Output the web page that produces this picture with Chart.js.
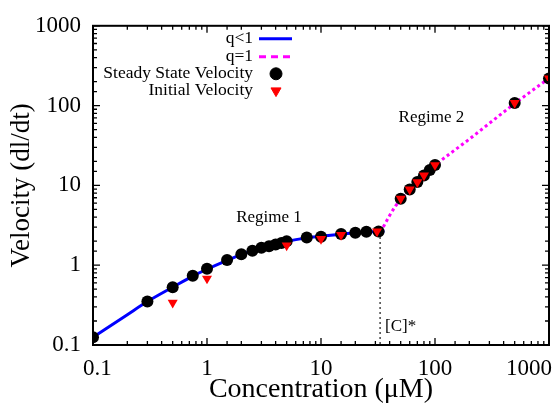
<!DOCTYPE html>
<html lang="en">
<head>
<meta charset="UTF-8">
<title>Velocity vs Concentration</title>
<script src="https://cdn.jsdelivr.net/npm/chart.js"></script>
<style>
  body { margin: 0; background: #fff; }
  .wrap { width: 557px; height: 406px; }
</style>
</head>
<body>
<div class="wrap"><canvas id="velChart" width="557" height="406"></canvas></div>
<script>
const serif = "'Liberation Serif', 'Times New Roman', serif";

// steady state velocity (black dots)
const ssConc = [0.1, 0.3, 0.5, 0.75, 1, 1.5, 2, 2.5, 3, 3.5, 4, 4.5, 5, 7.5, 10, 15, 20, 25, 32, 50, 60, 70, 80, 90, 100, 500, 1000];
const ssVel = [0.125, 0.35, 0.53, 0.74, 0.90, 1.16, 1.37, 1.52, 1.65, 1.73, 1.82, 1.90, 2.0, 2.22, 2.28, 2.46, 2.55, 2.63, 2.65, 6.8, 8.9, 11.0, 13.3, 15.6, 18.0, 108, 219];

// initial velocity (red triangles)
const ivConc = [0.5, 1, 5, 10, 15, 31, 50, 60, 70, 80, 100, 500, 1000];
const ivVel = [0.34, 0.68, 1.77, 2.13, 2.39, 2.65, 6.8, 8.9, 11.0, 13.3, 18.0, 108, 219];

// fitted curve q<1
const lowConc = [0.1, 0.2, 0.3, 0.5, 0.75, 1, 1.5, 2, 3, 5, 7.5, 10, 15, 20, 25, 36];
const lowVel = [0.125, 0.24, 0.35, 0.53, 0.73, 0.89, 1.15, 1.36, 1.64, 1.99, 2.2, 2.3, 2.45, 2.55, 2.6, 2.67];

// fitted curve q=1
const highConc = [33, 36, 40, 45, 50, 60, 70, 80, 90, 100, 200, 500, 1000];
const highVel = [2.6, 3.2, 4.2, 5.5, 6.6, 8.8, 11, 13.2, 15.5, 17.8, 38, 106, 220];

// critical concentration marker
const critConc = [33, 33];
const critVel = [2.6, 0.1];

const axisMin = 0.1, axisMax = 1000;

const pts = (xs, ys) => xs.map((v, i) => ({ x: v, y: ys[i] }));
const isDecade = v => Math.abs(Math.log10(v) - Math.round(Math.log10(v))) < 1e-6;
const fmt = v => v < 1 ? v.toFixed(1) : String(Math.round(v));

const extras = {
  id: 'extras',
  afterDatasetsDraw(chart) {
    const { ctx, chartArea: a, scales: { x, y } } = chart;
    ctx.save();
    ctx.strokeStyle = '#000';
    ctx.lineWidth = 1.3;
    // inward ticks on all four sides
    x.ticks.forEach(t => {
      const px = x.getPixelForValue(t.value);
      const len = isDecade(t.value) ? 7 : 4;
      ctx.beginPath();
      ctx.moveTo(px, a.bottom); ctx.lineTo(px, a.bottom - len);
      ctx.moveTo(px, a.top); ctx.lineTo(px, a.top + len);
      ctx.stroke();
    });
    y.ticks.forEach(t => {
      const py = y.getPixelForValue(t.value);
      const len = isDecade(t.value) ? 7 : 4;
      ctx.beginPath();
      ctx.moveTo(a.left, py); ctx.lineTo(a.left + len, py);
      ctx.moveTo(a.right, py); ctx.lineTo(a.right - len, py);
      ctx.stroke();
    });
    ctx.lineWidth = 2;
    ctx.strokeRect(a.left, a.top, a.right - a.left, a.bottom - a.top);

    // x tick labels, kept inside the canvas
    ctx.fillStyle = '#000';
    ctx.font = `23px ${serif}`;
    ctx.textAlign = 'left';
    ctx.textBaseline = 'alphabetic';
    x.ticks.filter(t => isDecade(t.value)).forEach(t => {
      const s = fmt(t.value);
      const w = ctx.measureText(s).width;
      let left = x.getPixelForValue(t.value) - w / 2;
      left = Math.max(left, a.left - 10);
      left = Math.min(left, chart.width - 5 - w);
      ctx.fillText(s, left, a.bottom + 30);
    });

    // annotations
    ctx.font = `17px ${serif}`;
    ctx.textBaseline = 'middle';
    ctx.textAlign = 'center';
    ctx.fillText('Regime 1', x.getPixelForValue(3.5), y.getPixelForValue(4.0));
    ctx.fillText('Regime 2', x.getPixelForValue(93), y.getPixelForValue(71));
    ctx.textAlign = 'left';
    ctx.fillText('[C]*', x.getPixelForValue(critConc[0]) + 5, y.getPixelForValue(0.17));

    // legend, top left inside the plot
    const ds = chart.data.datasets;
    const textRight = a.left + 160;
    const symL = a.left + 166, symR = a.left + 199, symC = a.left + 183;
    const rows = [a.top + 13, a.top + 31, a.top + 48, a.top + 65];
    ctx.textAlign = 'right';
    ctx.font = `17.5px ${serif}`;
    ds.filter(d => d.legendRow !== undefined).forEach(d => {
      const ry = rows[d.legendRow];
      ctx.fillStyle = '#000';
      ctx.fillText(d.label, textRight, ry);
      if (d.showLine) {
        ctx.beginPath();
        ctx.strokeStyle = d.borderColor;
        ctx.lineWidth = 3;
        ctx.setLineDash(d.legendDash || []);
        ctx.moveTo(symL, ry); ctx.lineTo(symR, ry);
        ctx.stroke();
        ctx.setLineDash([]);
      } else {
        ctx.fillStyle = d.pointBackgroundColor;
        ctx.strokeStyle = d.pointBorderColor;
        ctx.lineWidth = 1;
        Chart.helpers.drawPoint(ctx, { pointStyle: d.pointStyle, radius: d.pointRadius, rotation: d.pointRotation || 0, borderWidth: 1 }, symC, ry);
      }
    });
    ctx.restore();
  }
};

new Chart(document.getElementById('velChart'), {
  type: 'scatter',
  data: {
    datasets: [
      {
        label: 'Initial Velocity',
        legendRow: 3,
        data: pts(ivConc, ivVel),
        showLine: false,
        pointStyle: 'triangle',
        pointRotation: 180,
        pointRadius: 5.8,
        pointBackgroundColor: '#ff0000',
        pointBorderColor: '#ff0000',
        pointBorderWidth: 0,
        order: 0
      },
      {
        label: 'Steady State Velocity',
        legendRow: 2,
        data: pts(ssConc, ssVel),
        showLine: false,
        pointStyle: 'circle',
        pointRadius: 6,
        pointBackgroundColor: '#000',
        pointBorderColor: '#000',
        pointBorderWidth: 0,
        order: 1
      },
      {
        label: 'q<1',
        legendRow: 0,
        data: pts(lowConc, lowVel),
        showLine: true,
        borderColor: '#0000ff',
        borderWidth: 3,
        pointRadius: 0,
        cubicInterpolationMode: 'monotone',
        order: 2
      },
      {
        label: 'q=1',
        legendRow: 1,
        legendDash: [7, 5],
        data: pts(highConc, highVel),
        showLine: true,
        borderColor: '#ff00ff',
        borderWidth: 3,
        borderDash: [3, 3],
        pointRadius: 0,
        cubicInterpolationMode: 'monotone',
        order: 3
      },
      {
        label: '[C]*',
        data: pts(critConc, critVel),
        showLine: true,
        borderColor: '#444',
        borderWidth: 1.5,
        borderDash: [2, 3],
        pointRadius: 0,
        order: 4
      }
    ]
  },
  options: {
    responsive: false,
    animation: false,
    layout: { padding: { top: 19, right: 8, left: 0, bottom: 0 }, autoPadding: false },
    plugins: { legend: { display: false }, tooltip: { enabled: false } },
    scales: {
      x: {
        type: 'logarithmic',
        min: axisMin,
        max: axisMax,
        grid: { display: false, drawTicks: false },
        border: { display: false },
        ticks: { display: false },
        title: {
          display: true,
          text: 'Concentration (\u03bcM)',
          color: '#000',
          font: { family: serif, size: 28 },
          padding: { top: 0, bottom: 0 }
        },
        afterFit: s => { s.height = 61; }
      },
      y: {
        type: 'logarithmic',
        min: axisMin,
        max: axisMax,
        grid: { display: false, drawTicks: false },
        border: { display: false },
        ticks: {
          color: '#000',
          padding: 12,
          font: { family: serif, size: 23 },
          autoSkip: false,
          callback: v => isDecade(v) ? fmt(v) : ''
        },
        title: {
          display: true,
          text: 'Velocity (dl/dt)',
          color: '#000',
          font: { family: serif, size: 27 },
          padding: { top: 6, bottom: 0 }
        },
        afterFit: s => { s.width = 93; }
      }
    }
  },
  plugins: [extras]
});
</script>
</body>
</html>
